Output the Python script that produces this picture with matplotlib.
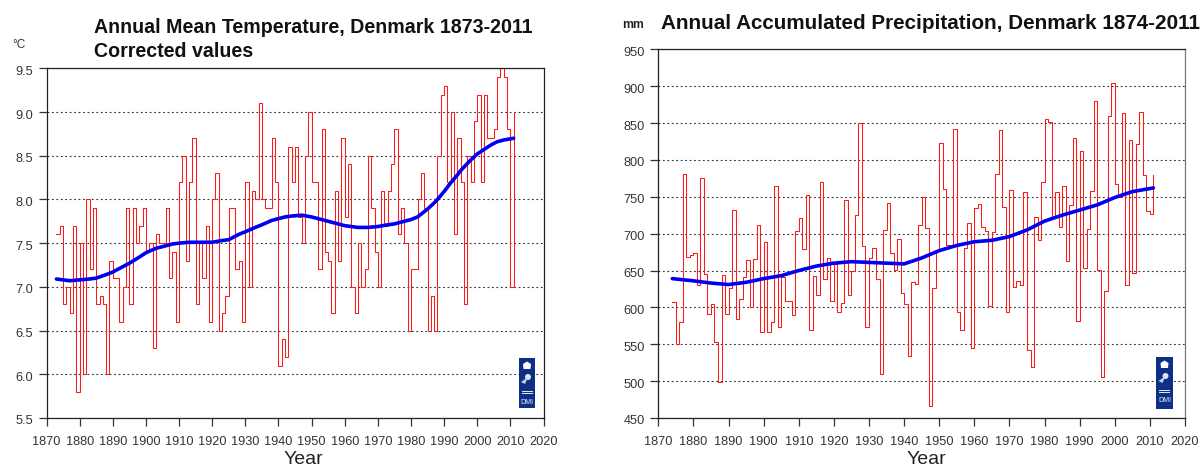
# two panels: annual temperature and precipitation for Denmark with smoothed curve
import matplotlib
matplotlib.use("Agg")
import matplotlib.pyplot as plt
from matplotlib.patches import Rectangle, Circle, Polygon
from matplotlib.transforms import ScaledTranslation

W, H = 1201, 468

temp_start = 1873
temp = [7.6, 7.7, 6.8, 7.0, 6.7, 7.7, 5.8, 7.5, 6.0, 8.0, 7.2, 7.9, 6.8, 6.9, 6.8, 6.0, 7.3,
        7.1, 7.1, 6.6, 7.0, 7.9, 6.8, 7.9, 7.5, 7.7, 7.9, 7.4, 7.5, 6.3, 7.6, 7.5, 7.5, 7.9,
        7.1, 7.4, 6.6, 8.2, 8.5, 7.3, 8.2, 8.7, 6.8, 7.5, 7.1, 7.7, 6.6, 8.0, 8.3, 6.5, 6.7,
        6.9, 7.9, 7.9, 7.2, 7.3, 6.6, 8.2, 7.0, 8.1, 8.0, 9.1, 8.0, 7.9, 7.9, 8.7, 8.2, 6.1,
        6.4, 6.2, 8.6, 8.2, 8.6, 7.8, 7.5, 8.5, 9.0, 8.2, 8.2, 7.2, 8.8, 7.4, 7.3, 6.7, 8.1,
        7.3, 8.7, 7.8, 8.4, 7.0, 6.7, 7.5, 7.0, 7.2, 8.5, 7.9, 7.4, 7.0, 8.1, 7.7, 8.1, 8.4,
        8.8, 7.6, 7.9, 7.5, 6.5, 7.2, 7.2, 8.0, 8.3, 7.9, 6.5, 6.9, 6.5, 8.5, 9.2, 9.3, 8.2,
        9.0, 7.6, 8.7, 8.2, 6.8, 8.5, 8.2, 8.9, 9.2, 8.2, 9.2, 8.7, 8.7, 8.8, 9.4, 9.5, 9.4,
        8.8, 7.0, 9.0]
temp_years = list(range(temp_start, temp_start + len(temp)))
temp_smooth_years = [1873, 1875, 1877, 1880, 1883, 1885, 1888, 1890, 1893, 1895, 1898, 1900, 1903,
                     1905, 1908, 1910, 1913, 1915, 1918, 1920, 1923, 1925, 1928, 1930, 1933,
                     1935, 1938, 1940, 1942, 1944, 1947, 1950, 1953, 1955, 1958, 1960, 1962, 1964,
                     1967, 1970, 1973, 1975, 1978, 1980, 1982, 1983, 1985, 1987, 1988, 1990, 1992,
                     1994, 1995, 1996, 1998, 2000, 2002, 2004, 2006, 2008, 2011]
temp_smooth = [7.09, 7.08, 7.07, 7.08, 7.09, 7.10, 7.14, 7.17, 7.23, 7.27, 7.34, 7.39, 7.44,
               7.46, 7.49, 7.50, 7.51, 7.51, 7.51, 7.51, 7.53, 7.54, 7.60, 7.63, 7.68,
               7.71, 7.76, 7.78, 7.80, 7.81, 7.82, 7.80, 7.77, 7.75, 7.72, 7.70, 7.69, 7.68,
               7.68, 7.69, 7.71, 7.72, 7.75, 7.77, 7.80, 7.83, 7.89, 7.96, 8.00, 8.09, 8.19,
               8.28, 8.33, 8.37, 8.45, 8.52, 8.57, 8.62, 8.66, 8.68, 8.70]

prec_start = 1874
prec = [607, 550, 580, 781, 669, 671, 674, 630, 776, 645, 591, 604, 553, 499, 644, 591, 626, 732,
        584, 611, 641, 664, 601, 665, 712, 566, 688, 567, 580, 765, 574, 641, 609, 609, 590, 703,
        721, 679, 753, 569, 643, 617, 770, 638, 667, 608, 659, 594, 606, 746, 617, 650, 725, 850,
        683, 573, 667, 681, 638, 509, 705, 741, 674, 651, 693, 619, 605, 534, 635, 632, 712, 750,
        708, 466, 626, 678, 823, 760, 685, 683, 842, 594, 570, 681, 715, 545, 735, 740, 709, 704,
        602, 702, 781, 840, 736, 594, 759, 627, 636, 630, 757, 542, 519, 722, 691, 770, 856, 852,
        721, 756, 709, 764, 663, 739, 830, 581, 812, 654, 706, 758, 880, 651, 505, 622, 860, 904,
        767, 750, 864, 630, 827, 646, 822, 865, 779, 731, 726, 779]
prec_years = list(range(prec_start, prec_start + len(prec)))
prec_smooth_years = [1874, 1880, 1885, 1890, 1895, 1900, 1905, 1910, 1915, 1920, 1925, 1930, 1935,
                     1940, 1945, 1950, 1955, 1960, 1965, 1970, 1975, 1980, 1985, 1990, 1995, 2000,
                     2005, 2011]
prec_smooth = [639, 636, 633, 631, 634, 639, 643, 650, 656, 660, 662, 661, 660,
               659, 667, 677, 684, 689, 691, 696, 705, 717, 725, 732, 739, 749,
               757, 762]

xticks = list(range(1870, 2021, 10))
temp_ticks = [5.5, 6.0, 6.5, 7.0, 7.5, 8.0, 8.5, 9.0, 9.5]
prec_ticks = list(range(450, 951, 50))

plt.rcParams['font.family'] = ['Liberation Sans', 'DejaVu Sans']

fig = plt.figure(figsize=(W / 100, H / 100), dpi=100)


def panel(left, right, top, bottom, right_color):
    ax = fig.add_axes([left / W, 1 - bottom / H, (right - left) / W, (bottom - top) / H])
    for s in ax.spines.values():
        s.set_linewidth(0.9)
        s.set_color('#222222')
    ax.spines['right'].set_color(right_color)
    ax.tick_params(length=5.8, width=0.9, color='#333333', labelsize=9.2, labelcolor='#333333')
    ax.tick_params(axis='x', pad=7)
    ax.tick_params(axis='y', pad=4)
    ax.set_axisbelow(True)
    ax.grid(axis='y', color='#333333', linewidth=0.8, linestyle=(0, (1.6, 2.4)))
    return ax


def logo(x0, x1, y0, y1):
    # DMI badge, drawn in pixels
    tr = fig.dpi_scale_trans
    def px(x, y):
        return (x / 100, (H - y) / 100)
    w = x1 - x0
    cx = (x0 + x1) / 2
    fig.add_artist(Rectangle(px(x0, y1), w / 100, (y1 - y0) / 100, transform=tr, color='#0d2f86', lw=0))
    fig.add_artist(Polygon([px(cx - 3.5, y0 + 11), px(cx + 3.5, y0 + 11), px(cx + 4, y0 + 6),
                            px(cx, y0 + 3.5), px(cx - 4, y0 + 6)], transform=tr, color='white', lw=0))
    fig.add_artist(Circle(px(cx + 1, y0 + 19), 0.03, transform=tr, color='#dfe5f2', lw=0))
    fig.add_artist(Polygon([px(cx - 6, y0 + 24), px(cx + 1, y0 + 19), px(cx - 2, y0 + 26)],
                           transform=tr, color='#c8d0e6', lw=0))
    for dy in (33, 35):
        fig.add_artist(Rectangle(px(cx - 5.5, y0 + dy + 1), 0.11, 0.01, transform=tr, color='#dfe5f2', lw=0))
    fig.text(cx / W, 1 - (y0 + 44) / H, 'DMI', color='#e8ecf6', fontsize=5, ha='center', va='center')


def nudge_ylabels(ax):
    # labels in the original sit a little under their ticks
    off = ScaledTranslation(0, -2 / 100, fig.dpi_scale_trans)
    for lab in ax.get_yticklabels():
        lab.set_transform(lab.get_transform() + off)


# temperature
ax1 = panel(46.5, 543.5, 68.3, 418, '#222222')
ax1.step(temp_years, temp, where='post', color='#ff1a1a', linewidth=0.75, zorder=2)
ax1.plot(temp_smooth_years, temp_smooth, color='#0000f0', linewidth=2.6, zorder=3,
         solid_capstyle='round', solid_joinstyle='round')
ax1.set_xlim(1870, 2020)
ax1.set_ylim(5.5, 9.5)
ax1.set_xticks(xticks)
ax1.set_yticks(temp_ticks)
ax1.set_yticklabels(['%.1f' % t for t in temp_ticks])
nudge_ylabels(ax1)

# precipitation
ax2 = panel(658.3, 1185, 49.3, 418, '#777777')
ax2.step(prec_years, prec, where='post', color='#ff1a1a', linewidth=0.75, zorder=2)
ax2.plot(prec_smooth_years, prec_smooth, color='#0000f0', linewidth=2.6, zorder=3,
         solid_capstyle='round', solid_joinstyle='round')
ax2.set_xlim(1870, 2020)
ax2.set_ylim(450, 950)
ax2.set_xticks(xticks)
ax2.set_yticks(prec_ticks)
nudge_ylabels(ax2)

fig.text(94 / W, 1 - 33 / H, 'Annual Mean Temperature, Denmark 1873-2011', fontsize=14.15,
         fontweight='bold', color='#111111', va='baseline')
fig.text(94 / W, 1 - 57 / H, 'Corrected values', fontsize=14.15, fontweight='bold',
         color='#111111', va='baseline')
fig.text(661 / W, 1 - 29 / H, 'Annual Accumulated Precipitation, Denmark 1874-2011', fontsize=14.85,
         fontweight='bold', color='#111111', va='baseline')
fig.text(12 / W, 1 - 48 / H, '°C', fontsize=8.5, color='#333333', va='baseline')
fig.text(622 / W, 1 - 28 / H, 'mm', fontsize=8.8, color='#222222', va='baseline', fontweight='bold')
# the original cuts these off at the bottom edge, here they stay whole
fig.text(303 / W, 0.5 / H, 'Year', fontsize=14, color='#222222', ha='center', va='bottom')
fig.text(926 / W, 0.5 / H, 'Year', fontsize=14, color='#222222', ha='center', va='bottom')

logo(519, 535, 358, 408)
logo(1156, 1173, 357, 409)

fig.savefig('out.png', dpi=100)
